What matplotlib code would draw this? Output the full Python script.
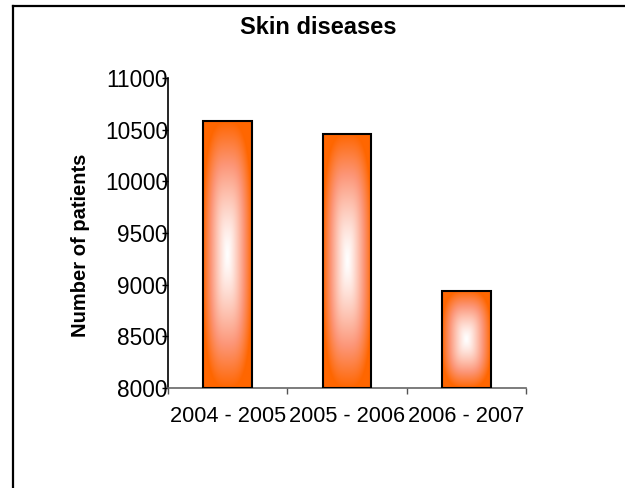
import numpy as np
import matplotlib
matplotlib.use("Agg")
import matplotlib.pyplot as plt
from matplotlib.lines import Line2D

plt.rcParams['font.family'] = ['Liberation Sans', 'DejaVu Sans']

periods = ["2004 - 2005", "2005 - 2006", "2006 - 2007"]
patients = [10580, 10460, 8940]
y_ticks = [8000, 8500, 9000, 9500, 10000, 10500, 11000]

W, H = 625, 488
fig = plt.figure(figsize=(W / 100, H / 100), dpi=100)
ax = fig.add_axes([168 / W, 1 - 388 / H, (526 - 168) / W, (388 - 78) / H])

# colour stops of the bar fill: centre -> middle -> edge
c_centre = np.array([255, 255, 255]) / 255.0
c_mid = np.array([252, 150, 120]) / 255.0
c_edge = np.array([255, 102, 0]) / 255.0

# soft rectangular "from centre" gradient texture for the bars
n = 240
u = np.linspace(-1, 1, n)
U, V = np.meshgrid(u, u)
p = 3.0
t = np.clip((np.abs(U) ** p + np.abs(V) ** p) ** (1 / p), 0, 1)
f = t ** 1.3
k = np.clip(f / 0.6, 0, 1)[..., None]
k2 = np.clip((f - 0.6) / 0.4, 0, 1)[..., None]
tex = np.where(f[..., None] < 0.6,
               c_centre * (1 - k) + c_mid * k,
               c_mid * (1 - k2) + c_edge * k2)

bar_w = 0.41
ymin = 8000
bars = ax.bar(range(len(periods)), [v - ymin for v in patients], bottom=ymin,
              width=bar_w, color="none", edgecolor="black", linewidth=1.5, zorder=3)
for b in bars:
    x0, y0 = b.get_x(), b.get_y()
    w, h = b.get_width(), b.get_height()
    im = ax.imshow(tex, extent=[x0, x0 + w, y0, y0 + h], aspect="auto",
                   origin="lower", zorder=2, interpolation="bilinear")
    im.set_clip_path(b)

ax.set_xlim(-0.5, len(periods) - 0.5)
ax.set_ylim(8000, 11000)
ax.set_yticks(y_ticks)
ax.set_yticklabels([str(v) for v in y_ticks])

ax.set_xticks(np.arange(len(periods) + 1) - 0.5)
ax.set_xticklabels([])
ax.set_xticks(range(len(periods)), minor=True)
ax.set_xticklabels(periods, minor=True)
ax.tick_params(axis="x", which="major", direction="out", length=4.5, width=1, color="#555555")
ax.tick_params(axis="x", which="minor", length=0, pad=13, labelsize=15.7)
ax.tick_params(axis="y", direction="out", length=4, width=1, pad=-4, labelsize=16.3)

for s in ("top", "right"):
    ax.spines[s].set_visible(False)
ax.spines["left"].set_color("black")
ax.spines["left"].set_linewidth(1.2)
ax.spines["bottom"].set_color("#666666")
ax.spines["bottom"].set_linewidth(1.2)

fig.text(318 / W, 1 - 27 / H, "Skin diseases", ha="center", va="center",
         fontsize=17, fontweight="bold")
fig.text(80 / W, 1 - 245 / H, "Number of patients", ha="center", va="center",
         rotation=90, fontsize=14.5, fontweight="bold")

# outer frame (left and top edges)
fx, fy = 13 / W, 1 - 5.5 / H
fig.add_artist(Line2D([fx, fx], [0, fy], transform=fig.transFigure, color="black", lw=1.6))
fig.add_artist(Line2D([fx, 1], [fy, fy], transform=fig.transFigure, color="black", lw=1.6))

fig.savefig("out.png", dpi=100)
